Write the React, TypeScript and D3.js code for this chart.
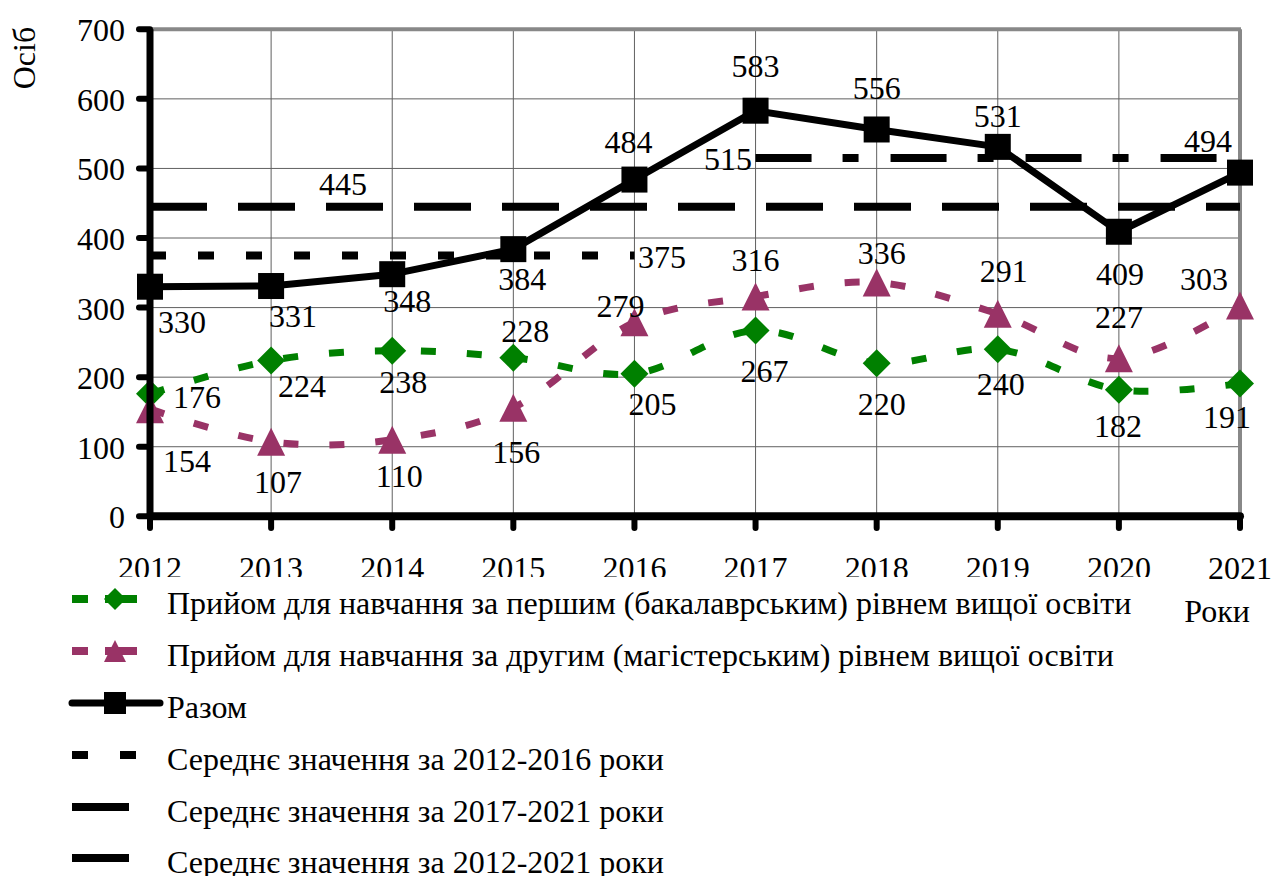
import React from "react";
import * as d3 from "d3";

// data
const years = [2012, 2013, 2014, 2015, 2016, 2017, 2018, 2019, 2020, 2021];
const bachelor = [176, 224, 238, 228, 205, 267, 220, 240, 182, 191];
const master = [154, 107, 110, 156, 279, 316, 336, 291, 227, 303];
const total = [330, 331, 348, 384, 484, 583, 556, 531, 409, 494];
const mean1216 = 375;
const mean1721 = 515;
const mean1221 = 445;
const yTicks = [0, 100, 200, 300, 400, 500, 600, 700];
const legendLabels = [
  "Прийом для навчання за першим (бакалаврським) рівнем вищої освіти",
  "Прийом для навчання за другим (магістерським) рівнем вищої освіти",
  "Разом",
  "Середнє значення за 2012-2016 роки",
  "Середнє значення за 2017-2021 роки",
  "Середнє значення за 2012-2021 роки",
];

// where each value label sits relative to its point (dx, dy to baseline)
const totalLabelOff = [[32, 46], [22, 41], [15, 38], [9, 41], [-6, -27], [0, -34], [0, -30], [0, -20], [1, 53], [-32, -21]];
const masterLabelOff = [[37, 63], [7, 51], [7, 47], [3, 55], [-14, -5], [0, -25], [5, -19], [6, -32], [0, -30], [-36, -15]];
const bachelorLabelOff = [[47, 14], [31, 37], [11, 42], [12, -16], [18, 41], [9, 51], [5, 52], [3, 46], [-1, 47], [-13, 45]];

const GREEN = "#008000";
const MAROON = "#993366";
const FONT = "Liberation Serif";
const FS = 32;

const diamond = (cx, cy, s = 14) => `M${cx},${cy - s}L${cx + s},${cy}L${cx},${cy + s}L${cx - s},${cy}Z`;
const triangle = (cx, cy, s = 14) => `M${cx},${cy - s}L${cx + s},${cy + s}L${cx - s},${cy + s}Z`;

export default function App() {
  const x = d3.scaleLinear().domain([2012, 2021]).range([150, 1240]);
  const y = d3.scaleLinear().domain([0, 700]).range([516.3, 29.3]);

  const smooth = d3.line<number>()
    .x((d, i) => x(years[i]))
    .y(d => y(d))
    .curve(d3.curveCardinal.tension(0));
  const straight = d3.line<number>()
    .x((d, i) => x(years[i]))
    .y(d => y(d));

  const legendY = [599, 651, 703, 755, 807, 858];

  return (
    <svg width={1271} height={876} style={{ position: "absolute", left: 0, top: 0, fontFamily: FONT }}>
      <rect width={1271} height={876} fill="#fff" />

      {/* grid */}
      {yTicks.slice(1, -1).map(t => (
        <line key={"h" + t} x1={150} x2={1240} y1={y(t)} y2={y(t)} stroke="#606060" strokeWidth={1} />
      ))}
      {years.slice(1, -1).map(yr => (
        <line key={"v" + yr} x1={x(yr)} x2={x(yr)} y1={y(700)} y2={y(0)} stroke="#606060" strokeWidth={1} />
      ))}
      <line x1={150} x2={1241} y1={y(700)} y2={y(700)} stroke="#888" strokeWidth={4} />
      <line x1={1240} x2={1240} y1={y(700)} y2={y(0)} stroke="#888" strokeWidth={4} />

      {/* averages */}
      <line x1={x(2012)} x2={x(2016)} y1={y(mean1216)} y2={y(mean1216)} stroke="#000" strokeWidth={8} strokeDasharray="16 32" />
      <line x1={x(2012)} x2={x(2021)} y1={y(mean1221)} y2={y(mean1221)} stroke="#000" strokeWidth={8} strokeDasharray="57 31" />
      <line x1={x(2017)} x2={x(2021)} y1={y(mean1721)} y2={y(mean1721)} stroke="#000" strokeWidth={8} strokeDasharray="56 31 16 32" />

      {/* series */}
      <path d={smooth(bachelor) || ""} fill="none" stroke={GREEN} strokeWidth={7} strokeDasharray="15 31" />
      {bachelor.map((v, i) => <path key={"b" + i} d={diamond(x(years[i]), y(v))} fill={GREEN} />)}
      <path d={smooth(master) || ""} fill="none" stroke={MAROON} strokeWidth={7} strokeDasharray="15 31" />
      {master.map((v, i) => <path key={"m" + i} d={triangle(x(years[i]), y(v))} fill={MAROON} />)}
      <path d={straight(total) || ""} fill="none" stroke="#000" strokeWidth={7} strokeLinejoin="round" />
      {total.map((v, i) => <rect key={"t" + i} x={x(years[i]) - 13} y={y(v) - 13} width={26} height={26} fill="#000" />)}

      {/* axes */}
      <line x1={150} x2={150} y1={y(700)} y2={y(0)} stroke="#000" strokeWidth={7} />
      <line x1={150} x2={1240} y1={y(0)} y2={y(0)} stroke="#000" strokeWidth={8} strokeLinecap="round" />
      {yTicks.map(t => (
        <g key={"yt" + t}>
          <line x1={139} x2={150} y1={y(t)} y2={y(t)} stroke="#000" strokeWidth={6} strokeLinecap="round" />
          <text x={125} y={y(t) + 12} textAnchor="end" fontSize={FS}>{t}</text>
        </g>
      ))}
      {years.map(yr => (
        <g key={"xt" + yr}>
          <line x1={x(yr)} x2={x(yr)} y1={y(0)} y2={528} stroke="#000" strokeWidth={6} strokeLinecap="round" />
          <text x={x(yr)} y={579} textAnchor="middle" fontSize={FS}>{yr}</text>
        </g>
      ))}

      {/* average labels */}
      <text x={343} y={y(mean1221) - 12} textAnchor="middle" fontSize={FS}>{mean1221}</text>
      <text x={638} y={y(mean1216) + 13} fontSize={FS}>{mean1216}</text>
      <text x={752} y={y(mean1721) + 12} textAnchor="end" fontSize={FS}>{mean1721}</text>

      {/* value labels */}
      {total.map((v, i) => (
        <text key={"tl" + i} x={x(years[i]) + totalLabelOff[i][0]} y={y(v) + totalLabelOff[i][1]} textAnchor="middle" fontSize={FS}>{v}</text>
      ))}
      {master.map((v, i) => (
        <text key={"ml" + i} x={x(years[i]) + masterLabelOff[i][0]} y={y(v) + masterLabelOff[i][1]} textAnchor="middle" fontSize={FS}>{v}</text>
      ))}
      {bachelor.map((v, i) => (
        <text key={"bl" + i} x={x(years[i]) + bachelorLabelOff[i][0]} y={y(v) + bachelorLabelOff[i][1]} textAnchor="middle" fontSize={FS}>{v}</text>
      ))}

      {/* axis titles */}
      <text transform="translate(35,58) rotate(-90)" textAnchor="middle" fontSize={FS}>Осіб</text>
      <text x={1217} y={622} textAnchor="middle" fontSize={FS}>Роки</text>

      {/* legend */}
      <rect x={55} y={577} width={1120} height={299} fill="#fff" />
      <g>
        <line x1={72} x2={137} y1={legendY[0]} y2={legendY[0]} stroke={GREEN} strokeWidth={8} strokeDasharray="16 17 32" />
        <path d={diamond(115, legendY[0], 11)} fill={GREEN} />
        <line x1={72} x2={137} y1={legendY[1]} y2={legendY[1]} stroke={MAROON} strokeWidth={8} strokeDasharray="16 17 32" />
        <path d={triangle(115, legendY[1], 11)} fill={MAROON} />
        <line x1={72} x2={160} y1={legendY[2]} y2={legendY[2]} stroke="#000" strokeWidth={7} strokeLinecap="round" />
        <rect x={104} y={legendY[2] - 11} width={22} height={22} fill="#000" />
        <line x1={72} x2={137} y1={legendY[3]} y2={legendY[3]} stroke="#000" strokeWidth={8} strokeDasharray="16 32" />
        <line x1={72} x2={129} y1={legendY[4]} y2={legendY[4]} stroke="#000" strokeWidth={8} />
        <line x1={72} x2={129} y1={legendY[5]} y2={legendY[5]} stroke="#000" strokeWidth={8} />
        {legendLabels.map((l, i) => (
          <text key={"lg" + i} x={167} y={legendY[i] + 15} fontSize={FS}>{l}</text>
        ))}
      </g>
    </svg>
  );
}
